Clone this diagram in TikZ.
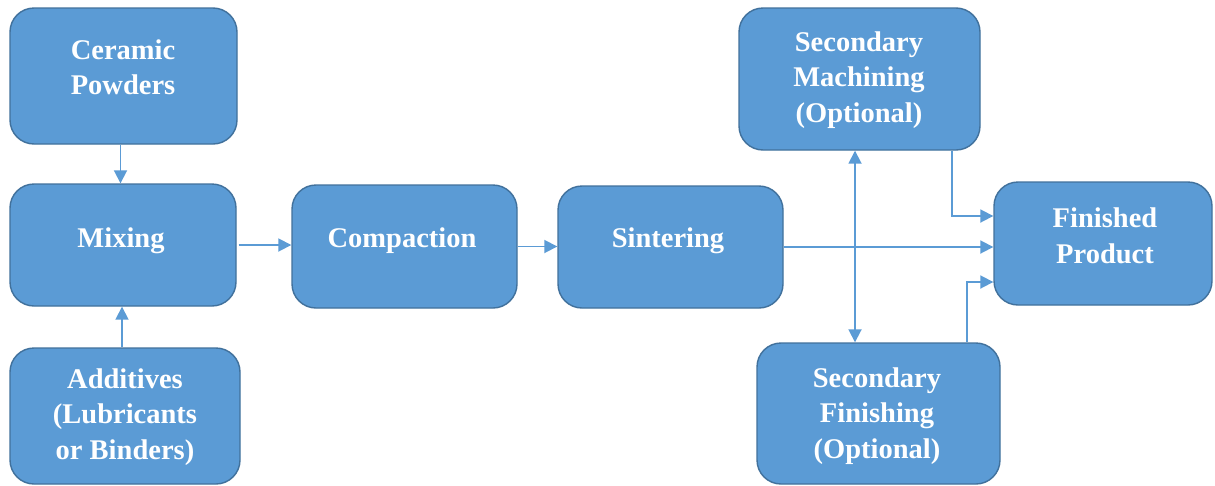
\documentclass[tikz,border=0pt]{standalone}
\usepackage{fontspec}
\setmainfont{Liberation Serif}
\usetikzlibrary{arrows.meta}
\definecolor{boxfill}{HTML}{5B9BD5}
\definecolor{boxline}{HTML}{41719C}
\definecolor{arrcol}{HTML}{5B9BD5}
\tikzset{
  box/.style={draw=boxline, line width=1.4pt, fill=boxfill, rounded corners=24pt, inner sep=0pt},
  txt/.style={text=white, font=\fontsize{28.5}{35.5}\selectfont\bfseries, align=center, inner sep=0pt},
  tip/.style={Triangle[length=13pt,width=13pt]},
  arr/.style={draw=arrcol, line width=1.8pt, -{Triangle[length=13pt,width=13pt]}},
  darr/.style={draw=arrcol, line width=1.8pt, {Triangle[length=13pt,width=13pt]}-{Triangle[length=13pt,width=13pt]}}
}
\begin{document}
\begin{tikzpicture}[x=1pt,y=-1pt]
\useasboundingbox (0,0) rectangle (1215,485);
\fill[white] (0,0) rectangle (1215,485);
% boxes
\node[box, minimum width=227pt, minimum height=136pt] (cp) at (123.5,76) {};
\node[box, minimum width=226pt, minimum height=122pt] (mx) at (123,245) {};
\node[box, minimum width=230pt, minimum height=136pt] (ad) at (125,416) {};
\node[box, minimum width=225pt, minimum height=123pt] (co) at (404.5,246.5) {};
\node[box, minimum width=225pt, minimum height=122pt] (si) at (670.5,247) {};
\node[box, minimum width=241pt, minimum height=142pt] (sm) at (859.5,79) {};
\node[box, minimum width=218pt, minimum height=123pt] (fp) at (1103,243.5) {};
\node[box, minimum width=243pt, minimum height=141pt] (sf) at (878.5,413.5) {};
% texts
\node[txt] (tcp) at (123,67) {Ceramic\\Powders};
\node[txt] (tmx) at (121,241) {Mixing};
\node[txt] (tad) at (125,417) {Additives\\(Lubricants\\or Binders)};
\node[txt] (tco) at (402,241) {Compaction};
\node[txt] (tsi) at (668,241) {Sintering};
\node[txt] (tsm) at (859,80) {Secondary\\Machining\\(Optional)};
\node[txt] (tfp) at (1105,236) {Finished\\Product};
\node[txt] (tsf) at (877,416) {Secondary\\Finishing\\(Optional)};
% connectors
\draw[arr] ([xshift=-3pt]cp.south) -- ([xshift=-3pt]cp.south |- mx.north);
\draw[arr] ([xshift=-3pt]ad.north) -- ([xshift=-3pt]ad.north |- mx.south);
\draw[arr] ([xshift=2pt]mx.east) -- (mx.east -| co.west);
\draw[arr] (co.east) -- (co.east -| si.west);
\draw[arr] (si.east) -- (si.east -| fp.west);
\draw[darr] ([xshift=-4.5pt]sm.south) -- ([xshift=-4.5pt]sm.south |- sf.north);
\draw[arr] ([xshift=92.5pt]sm.south) |- ([yshift=27.5pt]fp.west);
\draw[arr] ([xshift=88.5pt]sf.north) |- ([yshift=-38.5pt]fp.west);
\end{tikzpicture}
\end{document}
